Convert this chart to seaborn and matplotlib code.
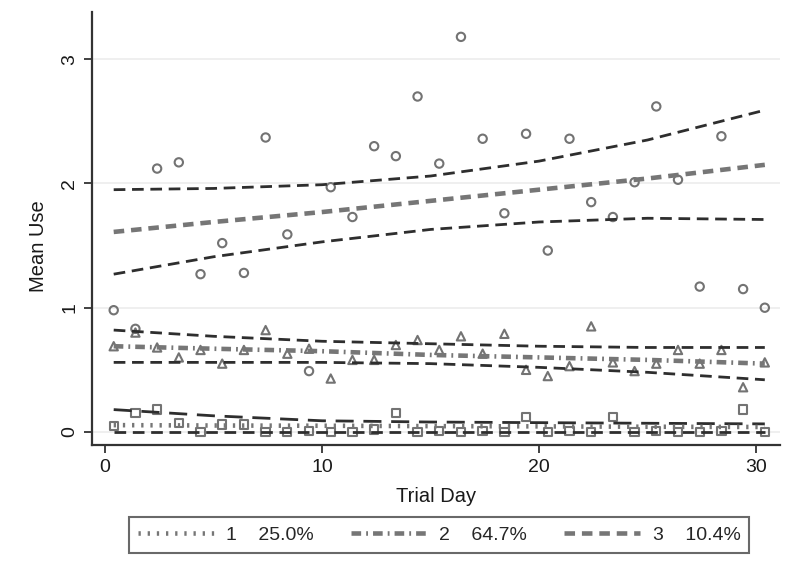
import numpy as np
import pandas as pd
import matplotlib.pyplot as plt
import seaborn as sns
from matplotlib.lines import Line2D

# Observed mean use per trial day, one list per trajectory group
days = [0.4, 1.4, 2.4, 3.4, 4.4, 5.4, 6.4, 7.4, 8.4, 9.4, 10.4, 11.4, 12.4, 13.4, 14.4, 15.4,
        16.4, 17.4, 18.4, 19.4, 20.4, 21.4, 22.4, 23.4, 24.4, 25.4, 26.4, 27.4, 28.4, 29.4, 30.4]
use_g1 = [0.05, 0.15, 0.18, 0.07, 0.0, 0.06, 0.06, 0.0, 0.0, 0.01, 0.0, 0.0, 0.02, 0.15, 0.0, 0.01,
          0.0, 0.01, 0.0, 0.12, 0.0, 0.01, 0.0, 0.12, 0.0, 0.01, 0.0, 0.0, 0.01, 0.18, 0.0]
use_g2 = [0.69, 0.80, 0.68, 0.60, 0.66, 0.55, 0.66, 0.82, 0.63, 0.67, 0.43, 0.58, 0.58, 0.70, 0.74, 0.66,
          0.77, 0.63, 0.79, 0.50, 0.45, 0.53, 0.85, 0.56, 0.49, 0.55, 0.66, 0.55, 0.66, 0.36, 0.56]
use_g3 = [0.98, 0.83, 2.12, 2.17, 1.27, 1.52, 1.28, 2.37, 1.59, 0.49, 1.97, 1.73, 2.30, 2.22, 2.70, 2.16,
          3.18, 2.36, 1.76, 2.40, 1.46, 2.36, 1.85, 1.73, 2.01, 2.62, 2.03, 1.17, 2.38, 1.15, 1.00]

# Fitted trajectories and confidence bounds, read at a few days
fit_days = [0.4, 5, 10, 15, 20, 25, 30.4]
fit_g1 = [0.055, 0.052, 0.05, 0.047, 0.045, 0.042, 0.04]
lo_g1 = [0.0, 0.0, 0.0, 0.0, 0.0, 0.0, 0.0]
hi_g1 = [0.18, 0.13, 0.09, 0.08, 0.075, 0.07, 0.065]
fit_g2 = [0.69, 0.67, 0.65, 0.62, 0.60, 0.58, 0.55]
lo_g2 = [0.56, 0.56, 0.56, 0.55, 0.52, 0.48, 0.42]
hi_g2 = [0.82, 0.77, 0.73, 0.71, 0.69, 0.68, 0.68]
fit_g3 = [1.61, 1.69, 1.77, 1.86, 1.95, 2.04, 2.15]
lo_g3 = [1.27, 1.41, 1.53, 1.63, 1.69, 1.72, 1.71]
hi_g3 = [1.95, 1.96, 1.99, 2.06, 2.18, 2.35, 2.59]

legend_labels = ['1    25.0%', '2    64.7%', '3    10.4%']

sns.set_style('white')
plt.rcParams['font.family'] = ['Liberation Sans', 'DejaVu Sans']

pts = pd.DataFrame({'day': days, 'g1': use_g1, 'g2': use_g2, 'g3': use_g3})
fits = pd.DataFrame({'day': fit_days, 'fit1': fit_g1, 'lo1': lo_g1, 'hi1': hi_g1,
                     'fit2': fit_g2, 'lo2': lo_g2, 'hi2': hi_g2,
                     'fit3': fit_g3, 'lo3': lo_g3, 'hi3': hi_g3})

fig = plt.figure(figsize=(8, 5.86), dpi=100)
ax = fig.add_axes([0.115, 0.2406, 0.86, 0.7389])

pt_col = '#737373'
fit_col = '#767676'
ci_col = '#2e2e2e'

# scatter of observed means
for col, mk in [('g3', 'o'), ('g2', '^'), ('g1', 's')]:
    sns.scatterplot(data=pts, x='day', y=col, marker=mk, s=36, facecolor='none',
                    edgecolor=pt_col, linewidth=1.5, ax=ax)

# confidence bounds
ci_dash = (0, (4.2, 2.4))
for col in ['lo1', 'lo2', 'hi2', 'lo3', 'hi3']:
    sns.lineplot(data=fits, x='day', y=col, color=ci_col, linewidth=2.0, linestyle=ci_dash, ax=ax)
sns.lineplot(data=fits, x='day', y='hi1', color=ci_col, linewidth=2.0, linestyle=(0, (6.5, 3.5)), ax=ax)

# fitted trajectories
styles = {'fit1': (0, (0.5, 1.5)), 'fit2': (0, (2.1, 1.1, 0.4, 1.1)), 'fit3': (0, (2.3, 1.5))}
for col, ls in styles.items():
    sns.lineplot(data=fits, x='day', y=col, color=fit_col, linewidth=3.3, linestyle=ls, ax=ax)

ax.set_xlim(-0.6, 31.1)
ax.set_ylim(-0.105, 3.38)
ax.set_xticks([0, 10, 20, 30])
ax.set_yticks([0, 1, 2, 3])
ax.yaxis.grid(True, color='#ececec', linewidth=1.2)
ax.set_axisbelow(True)
sns.despine(ax=ax)
for s in ['left', 'bottom']:
    ax.spines[s].set_color('#333333')
    ax.spines[s].set_linewidth(1.6)
ax.tick_params(axis='both', direction='out', length=6, width=1.3, color='#333333',
               labelsize=14, labelcolor='#1a1a1a', left=True, bottom=True, pad=4)
for lab in ax.get_yticklabels():
    lab.set_rotation(90)
    lab.set_va('center')
ax.set_xlabel('Trial Day', fontsize=14.5, color='#1a1a1a', labelpad=8)
ax.set_ylabel('Mean Use', fontsize=14.5, color='#1a1a1a')
ax.yaxis.set_label_coords(-0.064, 0.46)

handles = [Line2D([], [], color=fit_col, linewidth=3.3, linestyle=styles[k])
           for k in ['fit1', 'fit2', 'fit3']]
leg = fig.legend(handles, legend_labels, loc='center', bbox_to_anchor=(0.549, 0.087), ncol=3,
                 fontsize=14, handlelength=3.9, handletextpad=0.65, columnspacing=1.9,
                 frameon=True, fancybox=False, edgecolor='#444444', borderpad=0.45)
leg.get_frame().set_linewidth(1.5)

plt.savefig('out.png', dpi=100)
